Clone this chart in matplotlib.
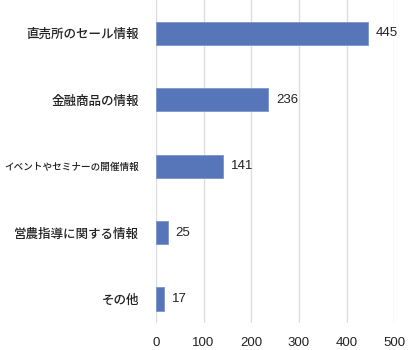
import matplotlib
matplotlib.use('Agg')
import matplotlib.pyplot as plt

plt.rcParams['font.family'] = ['Noto Sans CJK JP', 'DejaVu Sans']

# データ
categories = ['直売所のセール情報', '金融商品の情報', 'イベントやセミナーの開催情報',
              '営農指導に関する情報', 'その他']
values = [445, 236, 141, 25, 17]
xticks = [0, 100, 200, 300, 400, 500]

fig = plt.figure(figsize=(4.1, 3.5), dpi=100)
ax = fig.add_axes([0.380, 0.077, 0.582, 0.923])

pos = list(range(len(categories)))
ax.barh(pos, values, height=0.35, color='#5776b9', edgecolor='#7b95cc',
        linewidth=0.6, zorder=3)
for p, v in zip(pos, values):
    ax.text(v + 16, p, str(v), va='center', ha='left', fontsize=9.5,
            color='#222222', family=['Liberation Sans', 'DejaVu Sans'])

ax.set_xlim(0, 500)
ax.set_ylim(4.36, -0.5)
ax.set_xticks(xticks)
ax.set_xticklabels([str(t) for t in xticks], fontsize=9.5, color='#222222',
                   family=['Liberation Sans', 'DejaVu Sans'])
ax.set_yticks(pos)
ax.set_yticklabels(categories, fontsize=9, color='#222222', fontweight='medium')
# 長いラベルは左端に収まるよう少し小さく
ax.get_yticklabels()[2].set_fontsize(6.9)
ax.tick_params(length=0)
ax.tick_params(axis='y', pad=12)
ax.tick_params(axis='x', pad=10)
ax.grid(axis='x', color='#dddddd', linewidth=1, zorder=0)
for s in ax.spines.values():
    s.set_visible(False)

fig.savefig('out.png', dpi=100)
